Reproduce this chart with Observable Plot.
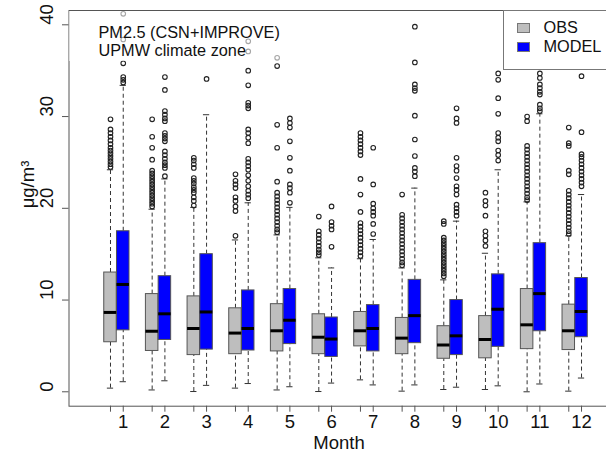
<!DOCTYPE html>
<html>
<head>
<meta charset="utf-8">
<script src="https://cdn.jsdelivr.net/npm/d3@7"></script>
<script src="https://cdn.jsdelivr.net/npm/@observablehq/plot@0.6"></script>
<style>
  html, body { margin: 0; padding: 0; background: white; overflow: hidden; }
  #wrap { position: relative; width: 606px; height: 454px; font-family: "Liberation Sans", Arial, sans-serif; }
  #title { position: absolute; left: 68.5px; top: 10.5px; width: 222px; height: 50px;
           background: rgba(255,255,255,0.6); font-size: 16.3px; line-height: 18.5px; color: #111; }
  #title div { padding-left: 30px; }
  #title div:first-child { padding-top: 12px; }
  #legend { position: absolute; left: 502.5px; top: 10px; width: 130px; height: 58px;
            background: white; border: 1px solid #777; font-size: 16.3px; color: #111; }
  .row { position: absolute; left: 13px; display: flex; align-items: center; }
  .sw { width: 13px; height: 10px; border: 1px solid #777; box-sizing: border-box; margin-right: 14px; }
</style>
</head>
<body>
<div id="wrap"></div>
<script>
const months = [1,2,3,4,5,6,7,8,9,10,11,12];
const seriesNames = ["OBS", "MODEL"];
const seriesColors = ["#bebebe", "#0000ff"];
const titleLines = ["PM2.5 (CSN+IMPROVE)", "UPMW climate zone"];
const yTicks = [0, 10, 20, 30, 40];
const xLabel = "Month";
const yLabel = "μg/m³";

// OBS box statistics
const obsLo  = [0.4, 0.2, 0.03, 0.4, 0.2, 0.03, 1.3, 0.07, 0.25, 0.25, 0.0, 0.07];
const obsQ1  = [5.4, 4.45, 4.0, 4.1, 4.4, 4.1, 4.95, 4.1, 3.6, 3.65, 4.65, 4.55];
const obsMed = [8.65, 6.6, 6.9, 6.4, 6.65, 5.95, 6.65, 5.85, 5.1, 5.7, 7.3, 6.65];
const obsQ3  = [13.0, 10.65, 10.4, 9.1, 9.55, 8.45, 8.7, 8.05, 7.15, 8.25, 11.2, 9.5];
const obsHi  = [24.2, 19.9, 20.1, 16.55, 17.1, 14.6, 14.5, 13.5, 12.2, 15.1, 20.7, 17.0];

// MODEL box statistics
const modelLo  = [1.1, 1.2, 0.7, 0.9, 0.55, 0.95, 0.75, 0.75, 0.5, 0.65, 0.85, 1.5];
const modelQ1  = [6.7, 5.65, 4.6, 4.5, 5.2, 3.8, 4.4, 5.3, 4.0, 4.9, 6.6, 5.95];
const modelMed = [11.7, 8.5, 8.7, 6.9, 7.8, 5.75, 6.9, 8.3, 6.1, 9.0, 10.7, 8.75];
const modelQ3  = [17.5, 12.6, 15.0, 11.05, 11.2, 8.1, 9.45, 12.2, 10.0, 12.8, 16.2, 12.4];
const modelHi  = [33.4, 23.2, 30.2, 20.6, 20.1, 13.5, 16.6, 22.2, 18.6, 24.2, 30.3, 21.5];

// outliers
const obsOut = [
  [29.7, 28.6, 28.2, 27.8, 27.4, 27.0, 26.6, 26.3, 26.0, 25.7, 25.4, 25.1, 24.8, 24.5],
  [29.7, 27.8, 26.6, 25.3, 24.1, 23.8, 23.5, 23.2, 22.9, 22.6, 22.3, 22.0, 21.7, 21.4, 21.1, 20.8, 20.5, 20.2],
  [25.5, 25.2, 24.8, 24.4, 23.3, 23.0, 22.7, 22.3, 22.0, 21.7, 21.2, 20.8, 20.3],
  [23.7, 23.0, 22.6, 22.2, 21.2, 20.8, 20.2, 19.7, 17.0],
  [36.4, 35.5, 29.1, 26.6, 22.9, 21.7, 21.3, 20.9, 20.5, 20.1, 19.7, 19.3, 18.9, 18.5, 18.1, 17.7, 17.4],
  [19.1, 17.5, 17.1, 16.7, 16.3, 15.9, 15.5, 15.2, 14.9],
  [28.2, 27.8, 27.4, 27.0, 26.6, 26.2, 25.8, 23.2, 21.5, 19.6, 18.4, 18.0, 17.6, 17.2, 16.8, 16.4, 16.0, 15.6, 15.2, 14.8],
  [21.5, 19.3, 18.9, 18.5, 18.1, 17.7, 17.3, 16.9, 16.5, 16.1, 15.7, 15.3, 14.9, 14.5, 14.1, 13.8],
  [18.6, 18.3, 16.8, 16.5, 16.2, 15.9, 15.6, 15.3, 15.0, 14.7, 14.4, 14.1, 13.8, 13.5, 13.2, 12.9, 12.6],
  [21.7, 20.8, 20.3, 19.2, 17.5, 17.0, 16.5, 15.9],
  [30.0, 29.5, 26.8, 26.4, 26.0, 25.6, 25.2, 24.8, 24.4, 24.0, 23.6, 23.2, 22.8, 22.4, 22.0, 21.6, 21.2, 20.9],
  [28.8, 27.1, 26.8, 24.1, 23.7, 21.9, 21.5, 21.1, 20.7, 20.3, 19.9, 19.5, 19.1, 18.7, 18.3, 17.9, 17.5, 17.2]
];
const modelOut = [
  [41.2, 38.4, 35.8, 34.3, 34.0, 33.7],
  [34.3, 32.9, 30.6, 30.2, 29.8, 29.5, 28.2, 27.9, 27.6, 27.3, 26.2, 25.8, 25.4, 25.0, 24.7, 24.4, 23.5],
  [34.1],
  [38.2, 37.1, 35.0, 33.4, 31.5, 31.2, 30.9, 28.6, 28.2, 27.7, 27.1, 25.4, 25.0, 24.6, 24.2, 23.6, 23.0, 22.4, 21.9, 21.5, 21.1],
  [29.8, 29.3, 28.8, 27.3, 25.5, 24.1, 22.6, 22.2, 21.7, 20.6],
  [20.2, 18.5, 18.1, 17.7, 15.8],
  [26.6, 22.6, 20.5, 20.0, 19.6, 19.2, 18.3, 17.2],
  [39.8, 35.9, 33.5, 33.1, 32.8, 30.1, 27.5, 25.7, 24.4, 24.0, 23.5],
  [30.9, 29.8, 29.3, 25.5, 24.6, 24.1, 23.3, 22.4, 22.0, 21.5, 20.4, 20.0, 19.6, 19.2],
  [34.7, 34.0, 32.0, 30.3, 28.2, 27.7, 27.3, 26.3, 25.8, 25.2],
  [34.7, 34.2, 33.5, 33.1, 32.7, 32.4, 31.3, 30.9, 30.6],
  [34.4, 28.3, 25.9, 25.6, 25.2, 24.8, 24.4, 24.0, 23.6, 23.2, 22.8, 22.4]
];

// layout constants
const OFF = 0.153;   // box centre offset from month
const HALF = 0.15;   // half box width
const CAP = 0.075;   // half staple width

const stats = [
  {lo: obsLo, q1: obsQ1, med: obsMed, q3: obsQ3, hi: obsHi, out: obsOut},
  {lo: modelLo, q1: modelQ1, med: modelMed, q3: modelQ3, hi: modelHi, out: modelOut}
];
const boxes = [];
const outliers = [];
months.forEach((m, i) => {
  stats.forEach((s, k) => {
    const pos = m + (k === 0 ? -OFF : OFF);
    boxes.push({month: m, series: seriesNames[k], pos, lo: s.lo[i], q1: s.q1[i], med: s.med[i], q3: s.q3[i], hi: s.hi[i]});
    s.out[i].forEach(v => outliers.push({pos, value: v, series: seriesNames[k]}));
  });
});
const tickPos = boxes.map(d => d.pos);
const tickLab = new Map(boxes.map(d => [d.pos, d.series === "MODEL" ? String(d.month) : ""]));

const whiskerStroke = "#333";
const chart = Plot.plot({
  width: 606,
  height: 454,
  marginLeft: 68.5,
  marginRight: -2.6,
  marginTop: 10,
  marginBottom: 48.3,
  style: {fontFamily: "'Liberation Sans', Arial, sans-serif", fontSize: "18px", background: "white", color: "#111"},
  x: {domain: [-0.149, 12.815]},
  y: {domain: [-1.57, 41.56]},
  color: {domain: seriesNames, range: seriesColors},
  marks: [
    Plot.ruleX(boxes, {x: "pos", y1: "q3", y2: "hi", stroke: whiskerStroke, strokeDasharray: "4,3"}),
    Plot.ruleX(boxes, {x: "pos", y1: "lo", y2: "q1", stroke: whiskerStroke, strokeDasharray: "4,3"}),
    Plot.ruleY(boxes, {y: "hi", x1: d => d.pos - CAP, x2: d => d.pos + CAP, stroke: whiskerStroke}),
    Plot.ruleY(boxes, {y: "lo", x1: d => d.pos - CAP, x2: d => d.pos + CAP, stroke: whiskerStroke}),
    Plot.rect(boxes, {x1: d => d.pos - HALF, x2: d => d.pos + HALF, y1: "q1", y2: "q3", fill: "series", stroke: "#555", strokeWidth: 1}),
    Plot.ruleY(boxes, {y: "med", x1: d => d.pos - HALF, x2: d => d.pos + HALF, stroke: "black", strokeWidth: 3}),
    Plot.dot(outliers, {x: "pos", y: "value", r: 2.3, stroke: "#222", fill: "none", strokeWidth: 1.1}),
    Plot.frame({stroke: "#555"}),
    Plot.axisY({ticks: yTicks, tickSize: 6.5, tickFormat: () => "", label: null, stroke: "#555"}),
    Plot.text(yTicks, {y: d => d, text: d => String(d), frameAnchor: "left", dx: -21.5, rotate: -90, fontSize: 18.5, fill: "#111"}),
    Plot.axisX({ticks: tickPos, tickFormat: d => tickLab.get(d), tickSize: 6, tickPadding: 3, label: null, fontSize: 18.5, stroke: "#555", fill: "#111"}),
    Plot.text([xLabel], {frameAnchor: "bottom", lineAnchor: "bottom", dy: 42.6, fontSize: 18.5, fill: "#111"}),
    Plot.text([yLabel], {frameAnchor: "left", dx: -41, rotate: -90, fontSize: 18.5, fill: "#111"})
  ]
});
const wrap = document.getElementById("wrap");
wrap.appendChild(chart);

const title = document.createElement("div");
title.id = "title";
titleLines.forEach(t => { const d = document.createElement("div"); d.textContent = t; title.appendChild(d); });
wrap.appendChild(title);

const legend = document.createElement("div");
legend.id = "legend";
seriesNames.forEach((n, k) => {
  const row = document.createElement("div");
  row.className = "row";
  row.style.top = (k === 0 ? 7 : 26) + "px";
  const sw = document.createElement("div");
  sw.className = "sw";
  sw.style.background = seriesColors[k];
  const lab = document.createElement("span");
  lab.textContent = n;
  row.appendChild(sw); row.appendChild(lab);
  legend.appendChild(row);
});
wrap.appendChild(legend);
</script>
</body>
</html>
